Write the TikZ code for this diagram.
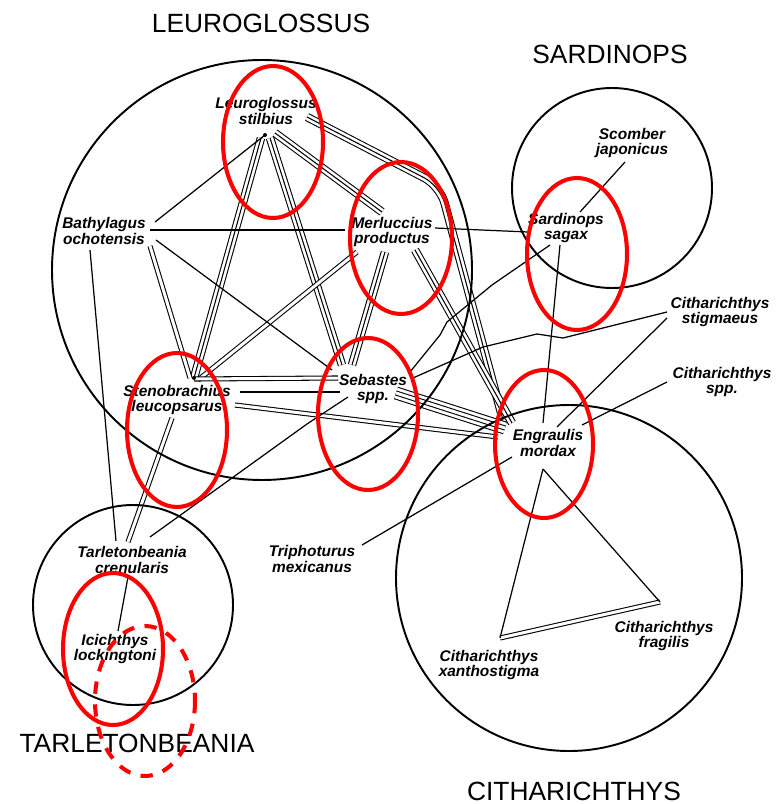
\documentclass[tikz,border=0pt]{standalone}
\usepackage{fontspec}
\setmainfont{Liberation Sans}
\usepackage{tikz}

\begin{document}
\begin{tikzpicture}[x=0.02cm,y=-0.02cm,
  sp/.style={font=\fontsize{8.8}{9}\selectfont\bfseries\itshape,align=center,inner sep=0pt},
  grp/.style={font=\fontsize{15}{17}\selectfont},
  ring/.style={line width=1.1pt},
  one/.style={line width=0.7pt},
  two/.style={line width=0.6pt,double,double distance=1.7pt},
  three/.style={line width=0.6pt,preaction={draw,line width=0.6pt,double,double distance=3.6pt}},
  four/.style={line width=0.6pt,double,double distance=1.7pt,preaction={draw,line width=0.6pt,double,double distance=6.2pt}},
  hilite/.style={red,line width=2.3pt}]
\useasboundingbox (0,0) rectangle (777,804);

% group names
\node[grp] (gleu) at (261,23) {LEUROGLOSSUS};
\node[grp] (gsard) at (610,54) {SARDINOPS};
\node[grp] (gtarl) at (137,743) {TARLETONBEANIA};
\node[grp] (gcith) at (574,791) {CITHARICHTHYS};

% species
\node[sp] (leu) at (266,111) {Leuroglossus\\stilbius};
\node[sp] (bath) at (104,231) {Bathylagus\\ochotensis};
\node[sp] (merl) at (392,232) {Merluccius\\productus};
\node[sp] (scom) at (632,143) {Scomber\\japonicus};
\node[sp] (sard) at (566,228) {Sardinops\\sagax};
\node[sp] (cstig) at (720,312) {Citharichthys\\stigmaeus};
\node[sp] (cspp) at (722,382) {Citharichthys\\spp.};
\node[sp] (steno) at (177,400) {Stenobrachius\\leucopsarus};
\node[sp] (seb) at (373,389) {Sebastes\\spp.};
\node[sp] (engr) at (548,443) {Engraulis\\mordax};
\node[sp] (tarl) at (132,560) {Tarletonbeania\\crenularis};
\node[sp] (icich) at (115,649) {Icichthys\\lockingtoni};
\node[sp] (triph) at (312,559) {Triphoturus\\mexicanus};
\node[sp] (cfra) at (664,636) {Citharichthys\\fragilis};
\node[sp] (cxan) at (489,665) {Citharichthys\\xanthostigma};

\coordinate (leuhub) at ([shift={(-1,24)}]leu.center);
\coordinate (stenohub) at ([shift={(17,-22)}]steno.center);
\coordinate (engrhub) at ([shift={(-5,26)}]engr.center);
\coordinate (frahub) at ([shift={(-4,-34)}]cfra.center);
\coordinate (xanhub) at ([shift={(11,-27)}]cxan.center);

% many-line links
\draw[three] ([shift={(-5,27)}]leu.center) -- (stenohub);
\draw[three] ([shift={(4,27)}]leu.center) -- ([shift={(-31,-24)}]seb.center);
\draw[three] ([shift={(9,22)}]leu.center) -- ([shift={(-10,-20)}]merl.center);
\draw[three,rounded corners=10pt] ([shift={(41,6)}]leu.center) -- (440,186) -- ([shift={(-45,-23)}]engr.center);
\draw[three] ([shift={(-7,20)}]merl.center) -- ([shift={(-21,-24)}]seb.center);
\draw[three] ([shift={(23,18)}]merl.center) -- ([shift={(-36,-20)}]engr.center);
\draw[two] ([shift={(-35,20)}]merl.center) -- ([shift={(4,2)}]stenohub);
\draw[two] ([shift={(46,15)}]bath.center) -- ([shift={(-4,0)}]stenohub);
\draw[two] ([shift={(0,1)}]stenohub) -- ([shift={(-35,-11)}]seb.center);
\draw[two] ([shift={(58,5)}]steno.center) -- ([shift={(-50,-6)}]engr.center);
\draw[two] ([shift={(-5,18)}]steno.center) -- ([shift={(-4,-18)}]tarl.center);
\draw[four] ([shift={(23,4)}]seb.center) -- ([shift={(-43,-15)}]engr.center);
\draw[two] (xanhub) -- (frahub);

% single links
\draw[one] (leuhub) -- ([shift={(51,-9)}]bath.center);
\draw[one] ([shift={(46,-1)}]bath.center) -- ([shift={(-47,-2)}]merl.center);
\draw[one] ([shift={(43,-4)}]merl.center) -- ([shift={(-38,4)}]sard.center);
\draw[one] ([shift={(52,9)}]bath.center) -- ([shift={(-41,-19)}]seb.center);
\draw[one] ([shift={(-14,19)}]bath.center) -- ([shift={(-16,-19)}]tarl.center);
\draw[one] ([shift={(63,-8)}]steno.center) -- ([shift={(-33,3)}]seb.center);
\draw[one] ([shift={(-25,8)}]seb.center) -- (307,424) -- ([shift={(18,-23)}]tarl.center);
\draw[one] ([shift={(37,-17)}]seb.center) -- (440,335) -- (447,322) -- (492,285) -- ([shift={(-16,17)}]sard.center);
\draw[one] ([shift={(40,-11)}]seb.center) -- (483,347) -- (537,334) -- (563,338) -- ([shift={(-53,0)}]cstig.center);
\draw[one] ([shift={(-6,17)}]sard.center) -- ([shift={(-5,-20)}]engr.center);
\draw[one] ([shift={(-7,19)}]scom.center) -- ([shift={(14,-16)}]sard.center);
\draw[one] ([shift={(-53,6)}]cstig.center) -- ([shift={(9,-16)}]engr.center);
\draw[one] ([shift={(-55,0)}]cspp.center) -- ([shift={(34,-18)}]engr.center);
\draw[one] ([shift={(50,-14)}]triph.center) -- ([shift={(-36,14)}]engr.center);
\draw[one] (engrhub) -- (xanhub);
\draw[one] (engrhub) -- (frahub);
\draw[one] ([shift={(-4,17)}]tarl.center) -- ([shift={(3,-18)}]icich.center);
\fill (leuhub) circle [radius=2];
\fill (stenohub) circle [radius=2];

% group circles
\draw[ring] (262,270) circle [radius=210];
\draw[ring] (612,188) circle [radius=100];
\draw[ring] (133,605) circle [radius=100];
\draw[ring] (569,578) circle [radius=173];

% red marks
\draw[hilite] (273,142) ellipse [x radius=50, y radius=76];
\draw[hilite] (401,238) ellipse [x radius=51, y radius=76];
\draw[hilite] (577,254) ellipse [x radius=50, y radius=76];
\draw[hilite] (177,430) ellipse [x radius=50, y radius=77];
\draw[hilite] (368,414) ellipse [x radius=50, y radius=76];
\draw[hilite] (544,444) ellipse [x radius=49, y radius=74];
\draw[hilite] (113,649) ellipse [x radius=50, y radius=76];
\draw[hilite,dash pattern=on 7pt off 6pt] (145,701) ellipse [x radius=50, y radius=75];
\end{tikzpicture}
\end{document}
